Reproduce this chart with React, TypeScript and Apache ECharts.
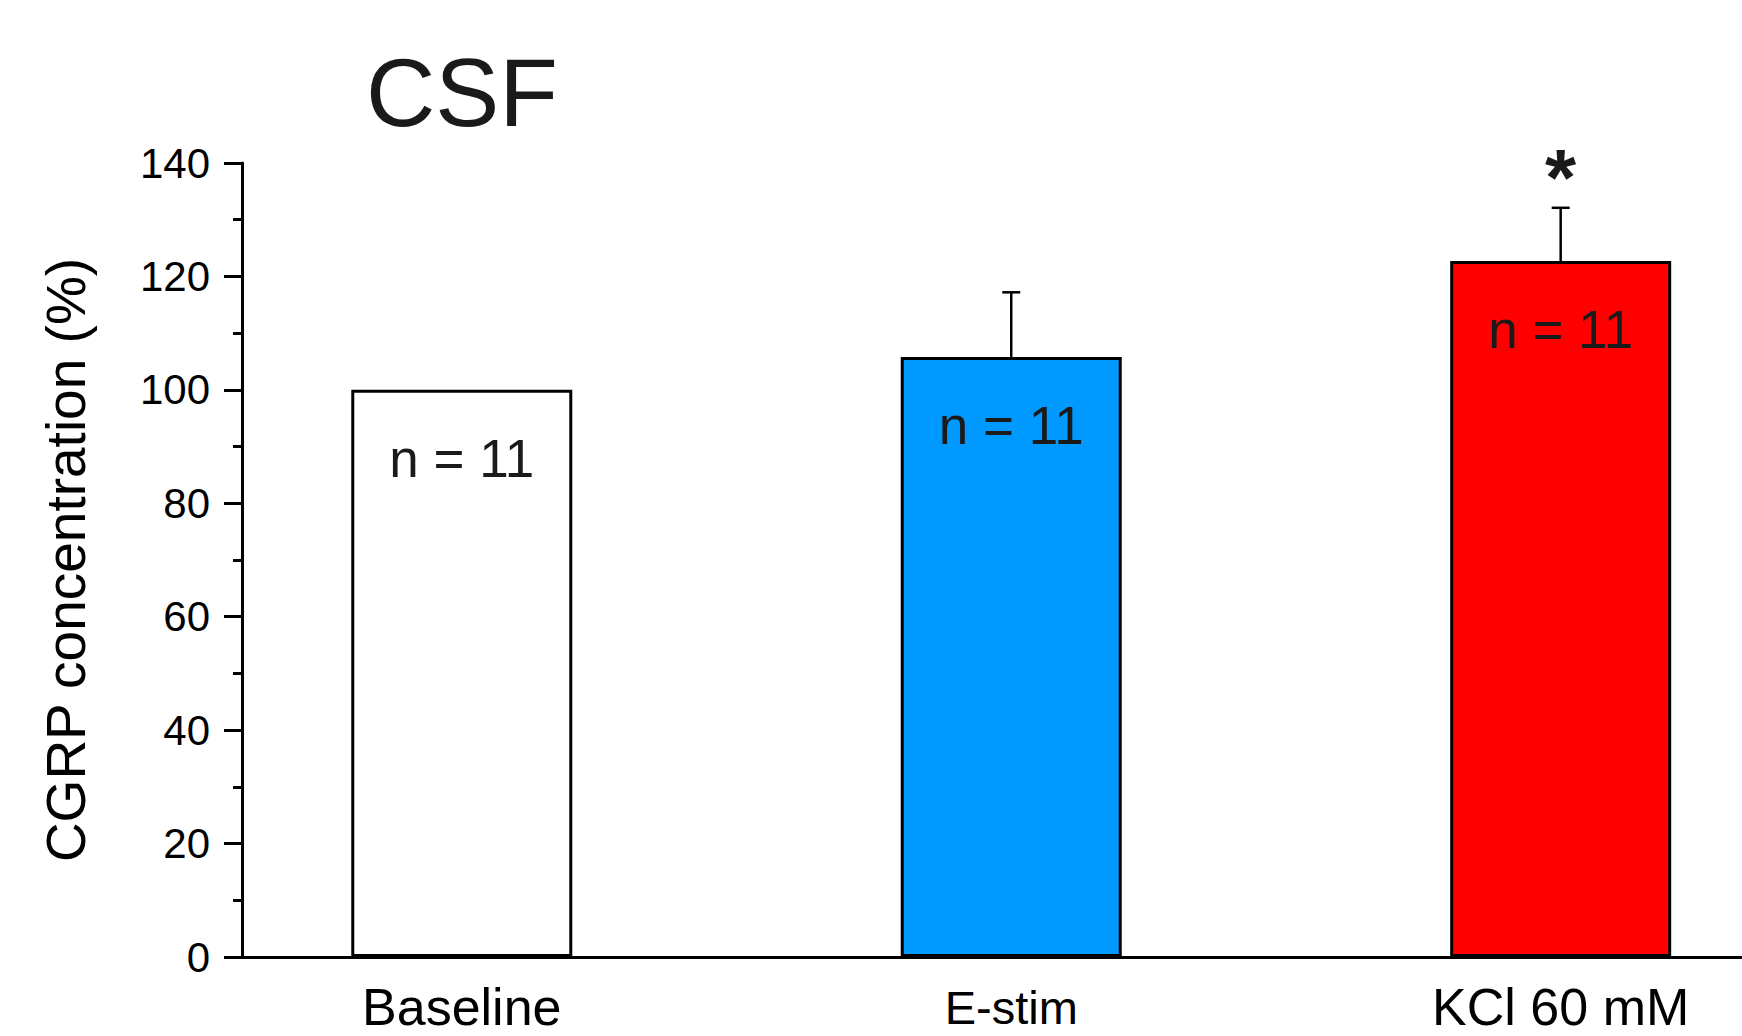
import React, { useEffect, useRef } from "react";
import * as echarts from "echarts";

const categories = ["Baseline", "E-stim", "KCl 60 mM"];
const positions = [1, 2, 3];
const means = [100, 105.8, 122.7];
const sems = [0, 11.4, 9.4];
const nLabels = ["n = 11", "n = 11", "n = 11"];
const sigMarks = ["", "", "*"];
const barColors = ["#ffffff", "#0099ff", "#ff0000"];
const yTicks = { min: 0, max: 140, step: 20 };

const FONT = "'Liberation Sans', Arial, Helvetica, sans-serif";

export default function App() {
  const ref = useRef<HTMLDivElement>(null);
  useEffect(() => {
    if (!ref.current) return;
    const chart = echarts.init(ref.current, null, { renderer: "svg" });
    const catFont = [52, 47, 52];
    const option: any = {
      animation: false,
      backgroundColor: "#ffffff",
      textStyle: { fontFamily: FONT },
      graphic: [
        {
          type: "text",
          x: 462,
          y: 92,
          style: {
            text: "CSF",
            fontSize: 96,
            fontFamily: FONT,
            fill: "#1a1a1a",
            align: "center",
            verticalAlign: "middle",
          },
        },
      ],
      grid: { left: 242, right: 0, top: 163, bottom: 79, containLabel: false },
      xAxis: {
        type: "value",
        min: 0.6,
        max: 3.33,
        splitLine: { show: false },
        axisLine: { show: true, lineStyle: { color: "#000", width: 3 } },
        axisTick: { show: false },
        axisLabel: {
          show: true,
          customValues: positions,
          margin: 28,
          formatter: (v: number) => {
            const i = Math.round(v) - 1;
            return `{c${i}|${categories[i]}}`;
          },
          rich: {
            c0: { fontSize: catFont[0], lineHeight: 44, color: "#000", fontFamily: FONT },
            c1: { fontSize: catFont[1], lineHeight: 44, color: "#000", fontFamily: FONT },
            c2: { fontSize: catFont[2], lineHeight: 44, color: "#000", fontFamily: FONT },
          },
        },
      },
      yAxis: {
        type: "value",
        min: yTicks.min,
        max: yTicks.max,
        interval: yTicks.step,
        name: "CGRP concentration (%)",
        nameLocation: "middle",
        nameRotate: 90,
        nameGap: 149,
        nameTextStyle: { fontSize: 55, color: "#000", fontFamily: FONT },
        splitLine: { show: false },
        axisLine: { show: true, lineStyle: { color: "#000", width: 3 } },
        axisTick: { show: true, length: 18, lineStyle: { color: "#000", width: 3 } },
        minorTick: { show: true, splitNumber: 2, length: 9, lineStyle: { color: "#000", width: 3 } },
        axisLabel: { fontSize: 42, color: "#000", margin: 32, fontFamily: FONT },
      },
      series: [
        {
          type: "bar",
          barWidth: 221,
          data: means.map((m, i) => ({
            value: [positions[i], m],
            itemStyle: { color: barColors[i] },
          })),
          itemStyle: { borderColor: "#000", borderWidth: 3 },
          label: {
            show: true,
            position: "insideTop",
            distance: 42,
            fontSize: 53,
            color: "#1a1a1a",
            fontFamily: FONT,
            formatter: (p: any) => nLabels[p.dataIndex],
          },
          z: 2,
        },
        {
          type: "custom",
          data: means.map((m, i) => [positions[i], m, sems[i], i]),
          z: 3,
          renderItem: (params: any, api: any) => {
            const x = api.value(0);
            const m = api.value(1);
            const e = api.value(2);
            const idx = api.value(3);
            const children: any[] = [];
            const top = api.coord([x, m + e]);
            if (e > 0) {
              const base = api.coord([x, m]);
              children.push({
                type: "line",
                shape: { x1: base[0], y1: base[1], x2: top[0], y2: top[1] },
                style: { stroke: "#000", lineWidth: 2.5 },
              });
              children.push({
                type: "line",
                shape: { x1: top[0] - 9, y1: top[1], x2: top[0] + 9, y2: top[1] },
                style: { stroke: "#000", lineWidth: 2.5 },
              });
            }
            const mark = sigMarks[idx];
            if (mark) {
              children.push({
                type: "text",
                x: top[0],
                y: top[1] - 30,
                style: {
                  text: mark,
                  fontSize: 80,
                  fontWeight: "bold",
                  fontFamily: FONT,
                  fill: "#1a1a1a",
                  align: "center",
                  verticalAlign: "middle",
                },
              });
            }
            return { type: "group", children };
          },
        },
      ],
    };
    chart.setOption(option);
    return () => chart.dispose();
  }, []);
  return (
    <div
      ref={ref}
      style={{ position: "fixed", left: 0, top: 0, width: 1742, height: 1036 }}
    />
  );
}
